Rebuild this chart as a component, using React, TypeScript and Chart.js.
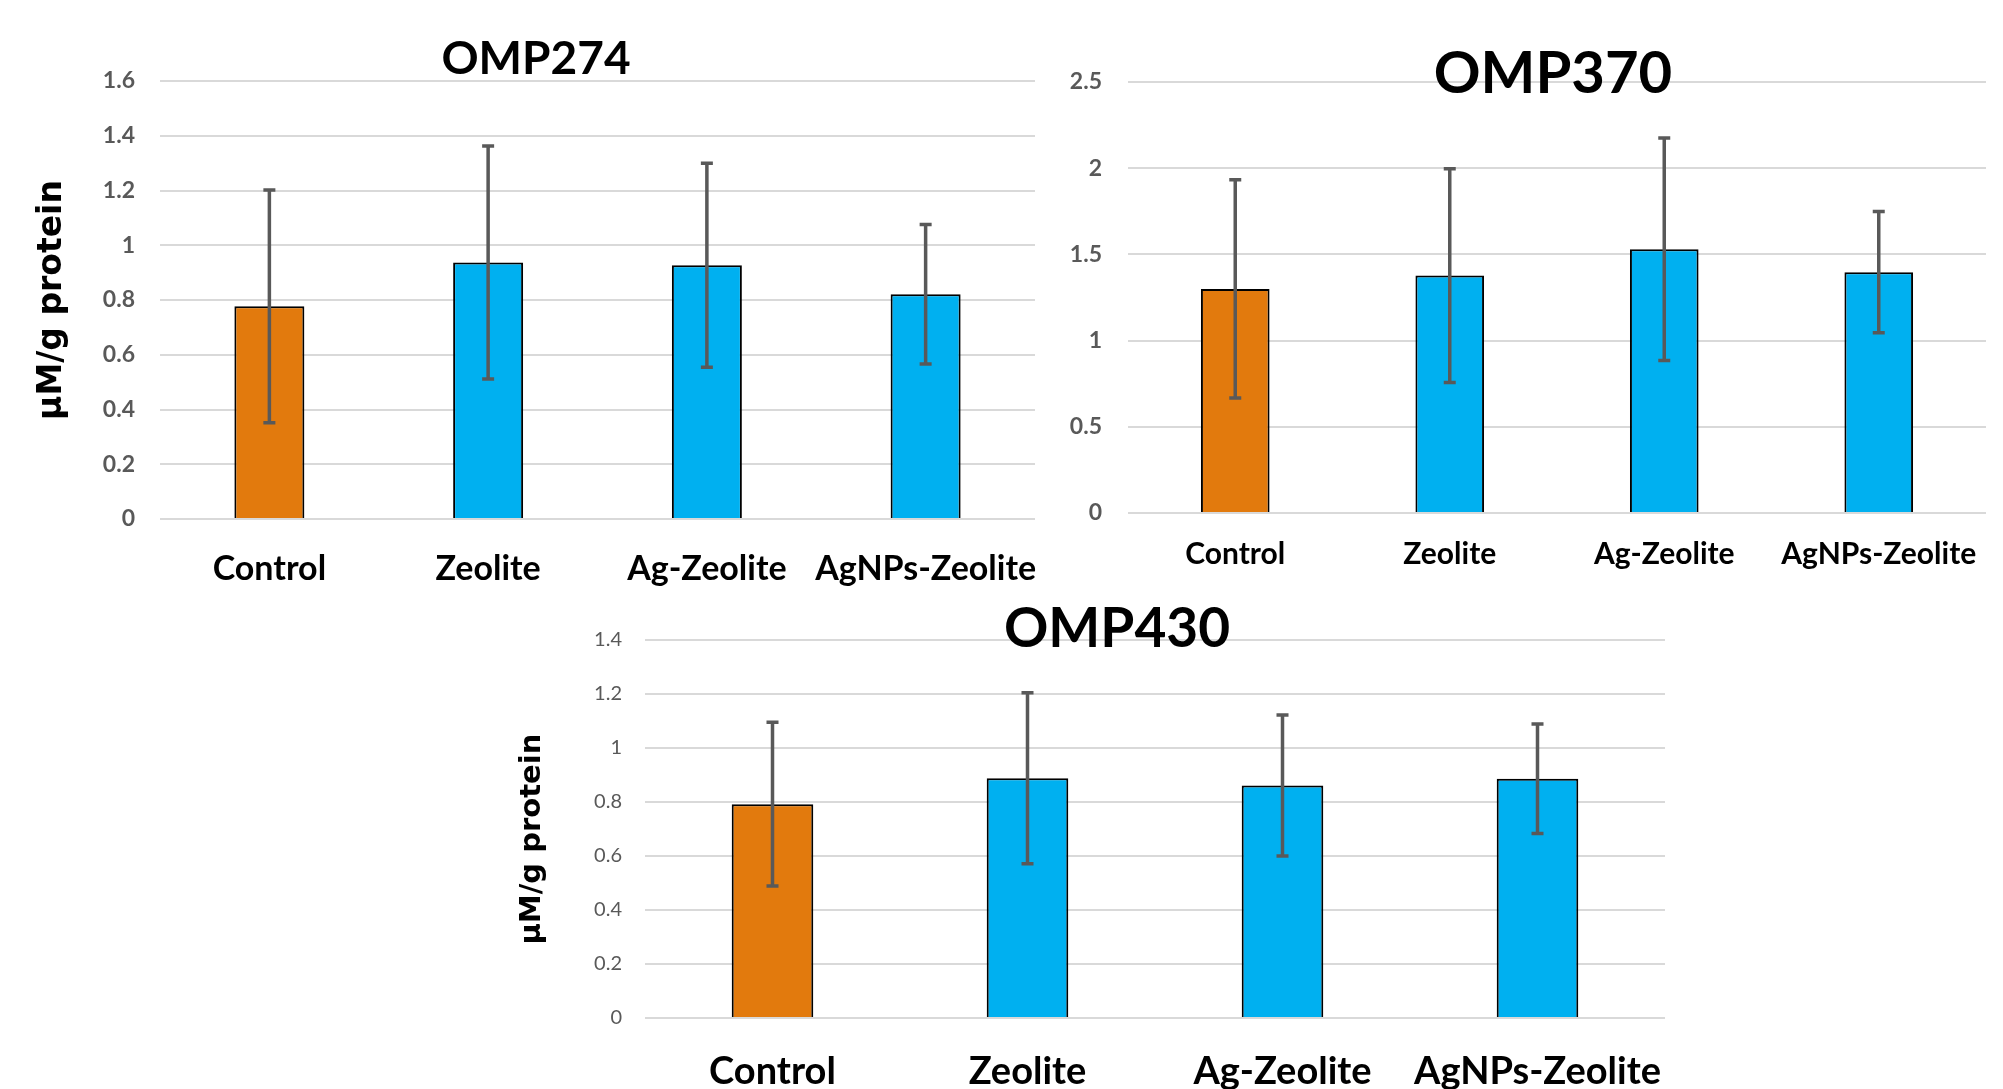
import React, { useEffect, useRef } from "react";
import { Chart, registerables } from "chart.js";

Chart.register(...registerables);

// ---- Data ----
const categories = ["Control", "Zeolite", "Ag-Zeolite", "AgNPs-Zeolite"];

const omp274Means = [0.777, 0.937, 0.927, 0.821];
const omp274Errors = [0.425, 0.426, 0.373, 0.255];
const omp274Ticks = [0, 0.2, 0.4, 0.6, 0.8, 1, 1.2, 1.4, 1.6];

const omp370Means = [1.3, 1.377, 1.53, 1.397];
const omp370Errors = [0.633, 0.62, 0.645, 0.352];
const omp370Ticks = [0, 0.5, 1, 1.5, 2, 2.5];

const omp430Means = [0.792, 0.888, 0.861, 0.886];
const omp430Errors = [0.303, 0.317, 0.261, 0.203];
const omp430Ticks = [0, 0.2, 0.4, 0.6, 0.8, 1, 1.2, 1.4];

const barColors = ["#E27A0D", "#00B0F0", "#00B0F0", "#00B0F0"];
const yAxisTitle = "µM/g protein";

// ---- Plugins ----
const titlePlugin = {
  id: "fixedTitle",
  afterDraw(chart: any, _args: any, opts: any) {
    if (!opts || !opts.text) return;
    const ctx = chart.ctx;
    ctx.save();
    ctx.font = `bold ${opts.size}px Lato, "Open Sans", sans-serif`;
    ctx.fillStyle = "#000";
    ctx.textAlign = "center";
    ctx.textBaseline = "alphabetic";
    ctx.fillText(opts.text, opts.x, opts.y);
    ctx.restore();
  },
};

const errorBarPlugin = {
  id: "errorBars",
  afterDatasetsDraw(chart: any, _args: any, opts: any) {
    if (!opts || !opts.errors) return;
    const ctx = chart.ctx;
    const yScale = chart.scales.y;
    const meta = chart.getDatasetMeta(0);
    const values = chart.data.datasets[0].data as number[];
    ctx.save();
    ctx.strokeStyle = "#595959";
    ctx.lineWidth = 3.5;
    ctx.lineCap = "butt";
    meta.data.forEach((bar: any, i: number) => {
      const v = values[i];
      const e = opts.errors[i];
      const x = bar.x;
      const yTop = yScale.getPixelForValue(v + e);
      const yBot = yScale.getPixelForValue(v - e);
      ctx.beginPath();
      ctx.moveTo(x, yTop);
      ctx.lineTo(x, yBot);
      ctx.moveTo(x - 6, yTop);
      ctx.lineTo(x + 6, yTop);
      ctx.moveTo(x - 6, yBot);
      ctx.lineTo(x + 6, yBot);
      ctx.stroke();
    });
    ctx.restore();
  },
};

type Spec = {
  left: number;
  top: number;
  width: number;
  height: number;
  title: string;
  titleSize: number;
  titleX: number;
  titleY: number;
  means: number[];
  errors: number[];
  ticks: number[];
  yMax: number;
  padTop: number;
  padRight: number;
  yWidth: number;
  xHeight: number;
  tickFont: { size: number; weight: string };
  tickPadding: number;
  xFontSize: number;
  xPadding: number;
  yTitle: null | { size: number; padTop: number; text: string };
};

const specs: Spec[] = [
  {
    left: 0, top: 0, width: 1045, height: 590,
    title: "OMP274", titleSize: 46, titleX: 536, titleY: 74,
    means: omp274Means, errors: omp274Errors, ticks: omp274Ticks, yMax: 1.6,
    padTop: 81, padRight: 10, yWidth: 160, xHeight: 71,
    tickFont: { size: 23, weight: "bold" }, tickPadding: 25,
    xFontSize: 34, xPadding: 30,
    yTitle: { size: 33, padTop: 33, text: yAxisTitle },
  },
  {
    left: 1045, top: 0, width: 958, height: 590,
    title: "OMP370", titleSize: 58, titleX: 508, titleY: 93,
    means: omp370Means, errors: omp370Errors, ticks: omp370Ticks, yMax: 2.5,
    padTop: 82, padRight: 17, yWidth: 83, xHeight: 77,
    tickFont: { size: 23, weight: "bold" }, tickPadding: 26,
    xFontSize: 30, xPadding: 23,
    yTitle: null,
  },
  {
    left: 480, top: 590, width: 1210, height: 499,
    title: "OMP430", titleSize: 55, titleX: 637, titleY: 57,
    means: omp430Means, errors: omp430Errors, ticks: omp430Ticks, yMax: 1.4,
    padTop: 50, padRight: 25, yWidth: 165, xHeight: 71,
    tickFont: { size: 20, weight: "normal" }, tickPadding: 23,
    xFontSize: 38, xPadding: 31,
    yTitle: { size: 29, padTop: 35, text: yAxisTitle + "\u00A0\u00A0" },
  },
];

function BarPanel({ spec }: { spec: Spec }) {
  const ref = useRef<HTMLCanvasElement | null>(null);
  useEffect(() => {
    if (!ref.current) return;
    const chart = new Chart(ref.current, {
      type: "bar",
      data: {
        labels: categories,
        datasets: [
          {
            data: spec.means,
            backgroundColor: barColors,
            borderColor: "#000000",
            borderWidth: 2,
            barPercentage: 0.32,
            categoryPercentage: 1,
          },
        ],
      },
      plugins: [titlePlugin, errorBarPlugin],
      options: {
        animation: false,
        responsive: false,
        devicePixelRatio: 1,
        layout: { padding: { top: spec.padTop, right: spec.padRight, bottom: 0, left: 0 } },
        plugins: {
          legend: { display: false },
          tooltip: { enabled: false },
          title: { display: false },
          fixedTitle: { text: spec.title, size: spec.titleSize, x: spec.titleX, y: spec.titleY },
          errorBars: { errors: spec.errors },
        } as any,
        scales: {
          x: {
            afterFit: (s: any) => {
              s.height = spec.xHeight;
              s.paddingLeft = 0;
              s.paddingRight = 0;
            },
            grid: { display: false, drawTicks: false },
            border: { display: false },
            ticks: {
              padding: spec.xPadding,
              color: "#000000",
              maxRotation: 0,
              autoSkip: false,
              font: { family: 'Lato, "Open Sans", sans-serif', size: spec.xFontSize, weight: "bold" },
            },
          },
          y: {
            min: 0,
            max: spec.yMax,
            afterFit: (s: any) => {
              s.width = spec.yWidth;
            },
            afterBuildTicks: (s: any) => {
              s.ticks = spec.ticks.map((v) => ({ value: v }));
            },
            grid: { color: "#D9D9D9", lineWidth: 2, drawTicks: false },
            border: { display: false },
            ticks: {
              padding: spec.tickPadding,
              color: "#595959",
              callback: (v: any) => String(v),
              font: { family: 'Lato, "Open Sans", sans-serif', size: spec.tickFont.size, weight: spec.tickFont.weight as any },
            },
            title: spec.yTitle
              ? {
                  display: true,
                  text: spec.yTitle.text,
                  color: "#000000",
                  font: { family: '"DejaVu Sans", Verdana, sans-serif', size: spec.yTitle.size, weight: "bold" },
                  padding: { top: spec.yTitle.padTop, bottom: 0 },
                }
              : { display: false },
          },
        },
      } as any,
    });
    return () => chart.destroy();
  }, [spec]);
  return (
    <canvas
      ref={ref}
      width={spec.width}
      height={spec.height}
      style={{
        position: "absolute",
        left: spec.left,
        top: spec.top,
        width: spec.width,
        height: spec.height,
      }}
    />
  );
}

export default function App() {
  return (
    <div
      style={{
        position: "absolute",
        left: 0,
        top: 0,
        width: 2003,
        height: 1089,
        background: "#ffffff",
        overflow: "hidden",
      }}
    >
      {specs.map((s) => (
        <BarPanel key={s.title} spec={s} />
      ))}
    </div>
  );
}
